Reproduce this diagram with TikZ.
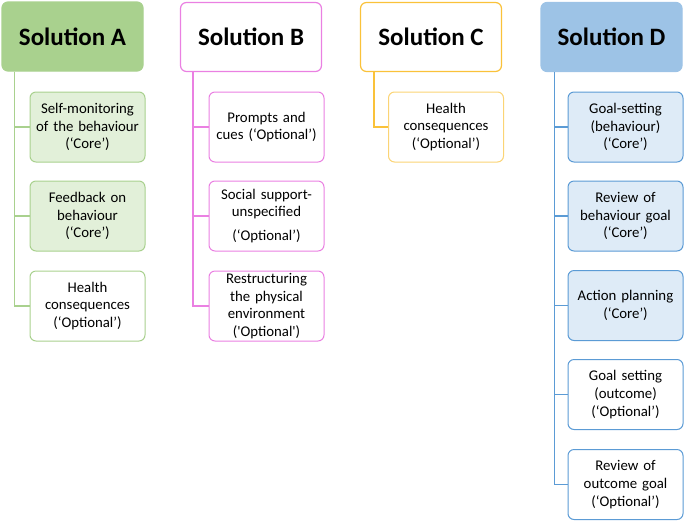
\documentclass[tikz,border=0pt]{standalone}
\usepackage{fontspec}
\setmainfont{Carlito}
\usetikzlibrary{positioning}

\definecolor{grnline}{HTML}{A9D18E}
\definecolor{grnfill}{HTML}{E2F0D9}
\definecolor{pnkline}{HTML}{EA80E2}
\definecolor{gldline}{HTML}{FAC23A}
\definecolor{bluline}{HTML}{5B9BD5}
\definecolor{bluhead}{HTML}{9DC3E6}
\definecolor{blufill}{HTML}{DEEBF7}

\begin{document}
\begin{tikzpicture}[x=1pt,y=-1pt,
    head/.style={draw, line width=1.2pt, rounded corners=6pt, minimum width=141pt,
        minimum height=69pt, inner sep=0pt, font=\fontsize{25}{30}\selectfont\bfseries},
    leaf/.style={draw, line width=1pt, rounded corners=6pt, minimum width=115pt,
        minimum height=70pt, inner sep=0pt, align=center, text width=113pt,
        font=\fontsize{14.8}{17.8}\selectfont},
    tie/.style={line width=1.3pt}]
            \useasboundingbox (0,0) rectangle (685,523);
            % Solution A
            \node [head, draw=grnline, fill=grnline] (hA) at (72.5,36.5) {Solution A};
            \node [leaf, draw=grnline, fill=grnfill] (a1) at (87.5,127) {Self-monitoring\\of the behaviour\\(‘Core’)};
            \node [leaf, draw=grnline, fill=grnfill] (a2) at (87.5,216) {Feedback on\\behaviour\\(‘Core’)};
            \node [leaf, draw=grnline, fill=white] (a3) at (87.5,306) {Health\\consequences\\(‘Optional’)};
            \draw [tie, grnline] ([xshift=13pt]hA.south west) |- (a3.west);
            \draw [tie, grnline] ([xshift=13pt]hA.south west) |- (a1.west);
            \draw [tie, grnline] ([xshift=13pt]hA.south west) |- (a2.west);
            % Solution B
            \node [head, draw=pnkline, fill=white] (hB) at (251,37) {Solution B};
            \node [leaf, draw=pnkline, fill=white] (b1) at (266.5,127) {Prompts and\\cues (‘Optional’)};
            \node [leaf, draw=pnkline, fill=white] (b2) at (266.5,216) {Social support-\\unspecified\\[6pt](‘Optional’)};
            \node [leaf, draw=pnkline, fill=white] (b3) at (266.5,306) {Restructuring\\the physical\\environment\\(\textquotesingle Optional\textquotesingle)};
            \draw [tie, pnkline] ([xshift=13pt]hB.south west) |- (b3.west);
            \draw [tie, pnkline] ([xshift=13pt]hB.south west) |- (b1.west);
            \draw [tie, pnkline] ([xshift=13pt]hB.south west) |- (b2.west);
            % Solution C
            \node [head, draw=gldline, fill=white] (hC) at (431,37) {Solution C};
            \node [leaf, draw=gldline!70, fill=white] (c1) at (446,127) {Health\\consequences\\(‘Optional’)};
            \draw [tie, gldline] ([xshift=14pt]hC.south west) |- (c1.west);
            % Solution D
            \node [head, draw=bluhead, fill=bluhead] (hD) at (611.5,37) {Solution D};
            \node [leaf, draw=bluline, fill=blufill] (d1) at (625.5,127) {Goal-setting\\(behaviour)\\(‘Core’)};
            \node [leaf, draw=bluline, fill=blufill] (d2) at (625.5,216) {Review of\\behaviour goal\\(‘Core’)};
            \node [leaf, draw=bluline, fill=blufill] (d3) at (625.5,305.5) {Action planning\\(‘Core’)};
            \node [leaf, draw=bluline, fill=white] (d4) at (625.5,394.5) {Goal setting\\(outcome)\\(‘Optional’)};
            \node [leaf, draw=bluline, fill=white] (d5) at (625.5,484.5) {Review of\\outcome goal\\(‘Optional’)};
            \draw [tie, bluline] ([xshift=14pt]hD.south west) |- (d5.west);
            \foreach \k in {d1,d2,d3,d4}
                \draw [tie, bluline] ([xshift=14pt]hD.south west) |- (\k.west);
\end{tikzpicture}
\end{document}
